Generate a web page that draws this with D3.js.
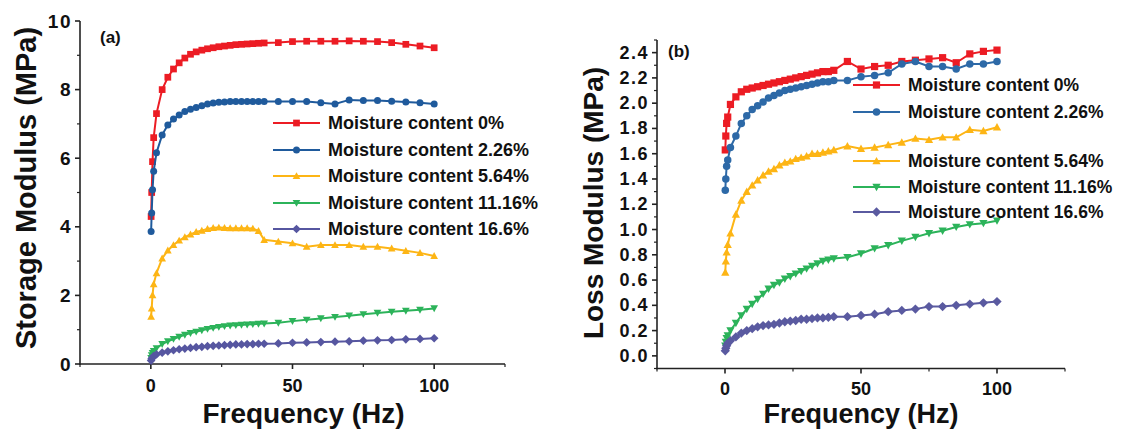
<!DOCTYPE html>
<html><head><meta charset="utf-8">
<script src="https://cdn.jsdelivr.net/npm/d3@7"></script>
<style>
html,body{margin:0;padding:0;background:#fff;}
text{font-family:"Liberation Sans",Arial,sans-serif;font-weight:bold;fill:#111;}
</style></head>
<body><svg id="c" width="1144" height="431"></svg>
<script>
const freq = [0.1,0.3,0.6,1,2,4,6,8,10,12,14,16,18,20,22,24,26,28,30,32,34,36,38,40,45,50,55,60,65,70,75,80,85,90,95,100];
const seriesNames = ["Moisture content 0%","Moisture content 2.26%","Moisture content 5.64%","Moisture content 11.16%","Moisture content 16.6%"];
const storage0    = [4.3,5.0,5.9,6.6,7.3,8.0,8.36,8.6,8.78,8.92,9.03,9.1,9.15,9.19,9.22,9.25,9.27,9.29,9.31,9.32,9.33,9.34,9.35,9.36,9.37,9.40,9.41,9.41,9.41,9.42,9.41,9.40,9.37,9.32,9.27,9.22];
const storage226  = [3.86,4.4,5.08,5.62,6.16,6.68,6.97,7.14,7.26,7.36,7.43,7.48,7.53,7.58,7.61,7.63,7.64,7.65,7.65,7.65,7.65,7.65,7.65,7.65,7.65,7.65,7.65,7.62,7.58,7.70,7.68,7.68,7.66,7.64,7.62,7.58];
const storage564  = [1.38,1.62,2.01,2.33,2.65,3.08,3.31,3.47,3.6,3.7,3.78,3.85,3.89,3.94,3.97,3.98,3.97,3.96,3.96,3.96,3.96,3.95,3.88,3.62,3.57,3.52,3.42,3.47,3.47,3.47,3.42,3.42,3.37,3.30,3.24,3.15];
const storage1116 = [0.17,0.25,0.32,0.38,0.46,0.58,0.66,0.73,0.79,0.85,0.9,0.94,0.98,1.02,1.05,1.08,1.1,1.12,1.13,1.14,1.15,1.16,1.17,1.18,1.2,1.25,1.29,1.33,1.37,1.41,1.45,1.49,1.52,1.55,1.58,1.62];
const storage166  = [0.1,0.15,0.19,0.23,0.28,0.33,0.37,0.4,0.43,0.45,0.47,0.49,0.5,0.52,0.53,0.54,0.55,0.56,0.57,0.57,0.58,0.58,0.59,0.59,0.6,0.62,0.63,0.64,0.65,0.66,0.68,0.69,0.7,0.72,0.73,0.75];
const loss0    = [1.63,1.74,1.84,1.89,1.99,2.05,2.09,2.11,2.12,2.13,2.14,2.15,2.16,2.17,2.18,2.19,2.20,2.21,2.22,2.23,2.24,2.25,2.25,2.26,2.33,2.27,2.29,2.30,2.33,2.34,2.35,2.36,2.32,2.39,2.41,2.42];
const loss226  = [1.31,1.40,1.50,1.55,1.65,1.74,1.84,1.90,1.95,1.98,2.01,2.04,2.06,2.08,2.10,2.11,2.12,2.13,2.14,2.15,2.16,2.17,2.17,2.18,2.18,2.21,2.22,2.24,2.31,2.33,2.29,2.29,2.27,2.31,2.31,2.33];
const loss564  = [0.66,0.75,0.82,0.88,0.97,1.12,1.23,1.30,1.35,1.39,1.43,1.46,1.48,1.51,1.53,1.54,1.56,1.57,1.58,1.60,1.60,1.61,1.62,1.63,1.66,1.64,1.65,1.67,1.69,1.72,1.71,1.73,1.73,1.79,1.78,1.81];
const loss1116 = [0.08,0.11,0.14,0.16,0.20,0.26,0.32,0.37,0.41,0.45,0.49,0.53,0.56,0.58,0.61,0.63,0.65,0.67,0.69,0.71,0.73,0.75,0.76,0.77,0.78,0.81,0.85,0.875,0.91,0.94,0.97,0.99,1.02,1.04,1.05,1.07];
const loss166  = [0.04,0.06,0.08,0.10,0.12,0.15,0.18,0.20,0.215,0.23,0.24,0.245,0.25,0.26,0.27,0.275,0.28,0.29,0.29,0.295,0.30,0.30,0.305,0.31,0.31,0.32,0.33,0.35,0.36,0.37,0.39,0.39,0.40,0.41,0.42,0.43];
const xTickLabels = [0,50,100];
const xMinorTicks = [-25,25,75,125];
const storageTicks = [0,2,4,6,8,10];
const storageMinor = [1,3,5,7,9];
const lossTicks = [0,0.2,0.4,0.6,0.8,1.0,1.2,1.4,1.6,1.8,2.0,2.2,2.4];
const lossMinor = [-0.1,0.1,0.3,0.5,0.7,0.9,1.1,1.3,1.5,1.7,1.9,2.1,2.3,2.5];

const colorsA = ["#ec1c24","#1f5a9c","#fdb515","#2cb35a","#5656a0"];
const colorsB = ["#ec1c24","#2d69a7","#fdb515","#2cb35a","#5a5aa0"];
const shapes = ["square","circle","up","down","diamond"];

const svg = d3.select("#c");

function marker(g, shape, color, cx, cy, s) {
  if (shape === "circle") {
    g.append("circle").attr("cx", cx).attr("cy", cy).attr("r", s*0.5).attr("fill", color);
  } else if (shape === "square") {
    g.append("rect").attr("x", cx - s*0.48).attr("y", cy - s*0.48).attr("width", s*0.96).attr("height", s*0.96).attr("fill", color);
  } else if (shape === "diamond") {
    const h = s*0.62;
    g.append("path").attr("d", `M${cx},${cy-h}L${cx+h},${cy}L${cx},${cy+h}L${cx-h},${cy}Z`).attr("fill", color);
  } else {
    const h = s*0.55, dir = shape === "up" ? 1 : -1;
    g.append("path").attr("d", `M${cx},${cy - dir*h}L${cx+h},${cy + dir*h*0.8}L${cx-h},${cy + dir*h*0.8}Z`).attr("fill", color);
  }
}

function panel(cfg) {
  const g = svg.append("g");
  const x = d3.scaleLinear().domain([-25,125]).range(cfg.xr);
  const y = d3.scaleLinear().domain(cfg.yd).range(cfg.yr);
  const x0 = cfg.xr[0], yb = cfg.yr[0];
  // axes lines
  const ax = g.append("g").attr("stroke", "#222").attr("stroke-width", 1.6);
  ax.append("line").attr("x1", x0).attr("x2", x0).attr("y1", cfg.yr[1]).attr("y2", yb + 0.8);
  ax.append("line").attr("x1", x0 - 0.8).attr("x2", cfg.xr[1]).attr("y1", yb).attr("y2", yb);
  cfg.yMajor.forEach(v => ax.append("line").attr("x1", x0 - 5).attr("x2", x0).attr("y1", y(v)).attr("y2", y(v)));
  cfg.yMinor.forEach(v => ax.append("line").attr("x1", x0 - 3).attr("x2", x0).attr("y1", y(v)).attr("y2", y(v)).attr("stroke-width", 1.2));
  xTickLabels.forEach(v => ax.append("line").attr("x1", x(v)).attr("x2", x(v)).attr("y1", yb).attr("y2", yb + 5));
  xMinorTicks.forEach(v => ax.append("line").attr("x1", x(v)).attr("x2", x(v)).attr("y1", yb).attr("y2", yb + 3).attr("stroke-width", 1.2));
  // tick labels
  cfg.yMajor.forEach(v => g.append("text").attr("x", x0 - 8).attr("y", y(v)).attr("text-anchor", "end")
    .attr("dominant-baseline", "central").style("font-size", cfg.yFont + "px").style("letter-spacing", cfg.ySpacing + "px")
    .text(cfg.yFmt(v)));
  xTickLabels.forEach(v => g.append("text").attr("x", x(v)).attr("y", yb + cfg.xLabOff).attr("text-anchor", "middle")
    .attr("dominant-baseline", "central").style("font-size", "18px").text(v));
  // titles
  g.append("text").attr("x", (cfg.xr[0] + cfg.xr[1]) / 2 + cfg.xTitleShift).attr("y", 423).attr("text-anchor", "middle")
    .style("font-size", cfg.xTitleFont + "px").text("Frequency (Hz)");
  g.append("text").attr("transform", `translate(${cfg.yTitleX},${cfg.yTitleY}) rotate(-90)`).attr("text-anchor", "middle")
    .style("font-size", cfg.yTitleFont + "px").text(cfg.yTitle);
  g.append("text").attr("x", cfg.tagX).attr("y", cfg.tagY).style("font-size", "17px").text(cfg.tag);
  // series
  const line = d3.line().x((d, i) => x(freq[i])).y(d => y(d));
  cfg.series.forEach((s, k) => {
    const sg = g.append("g");
    sg.append("path").datum(s).attr("d", line).attr("fill", "none").attr("stroke", cfg.colors[k]).attr("stroke-width", 2);
    s.forEach((v, i) => marker(sg, shapes[k], cfg.colors[k], x(freq[i]), y(v), cfg.ms));
  });
  // legend
  cfg.legY.forEach((ly, k) => {
    const lg = g.append("g");
    lg.append("line").attr("x1", cfg.legX).attr("x2", cfg.legX + 47).attr("y1", ly).attr("y2", ly)
      .attr("stroke", cfg.colors[k]).attr("stroke-width", 2.2);
    marker(lg, shapes[k], cfg.colors[k], cfg.legX + 23.5, ly, cfg.ms);
    lg.append("text").attr("x", cfg.legX + 55).attr("y", ly).attr("dominant-baseline", "central")
      .style("font-size", cfg.legFont + "px").text(seriesNames[k]);
  });
}

panel({
  xr: [80, 505], yd: [0, 10], yr: [364, 21],
  yMajor: storageTicks, yMinor: storageMinor, yFmt: d3.format("d"), yFont: 19, ySpacing: 1.5,
  xLabOff: 22, xTitleFont: 28, xTitleShift: 11,
  yTitle: "Storage Modulus (MPa)", yTitleX: 36, yTitleY: 188, yTitleFont: 29,
  tag: "(a)", tagX: 100, tagY: 43,
  series: [storage0, storage226, storage564, storage1116, storage166], colors: colorsA, ms: 7,
  legX: 273, legY: [123, 150, 176, 203, 229], legFont: 18
});
panel({
  xr: [657, 1065], yd: [-0.1, 2.5], yr: [368.5, 40],
  yMajor: lossTicks, yMinor: lossMinor, yFmt: d3.format(".1f"), yFont: 18, ySpacing: 1.5,
  xLabOff: 20, xTitleFont: 27, xTitleShift: 0,
  yTitle: "Loss Modulus (MPa)", yTitleX: 603, yTitleY: 203, yTitleFont: 28,
  tag: "(b)", tagX: 668, tagY: 57,
  series: [loss0, loss226, loss564, loss1116, loss166], colors: colorsB, ms: 7.5,
  legX: 853, legY: [85, 112, 161, 187, 212], legFont: 17.5
});
</script></body></html>
